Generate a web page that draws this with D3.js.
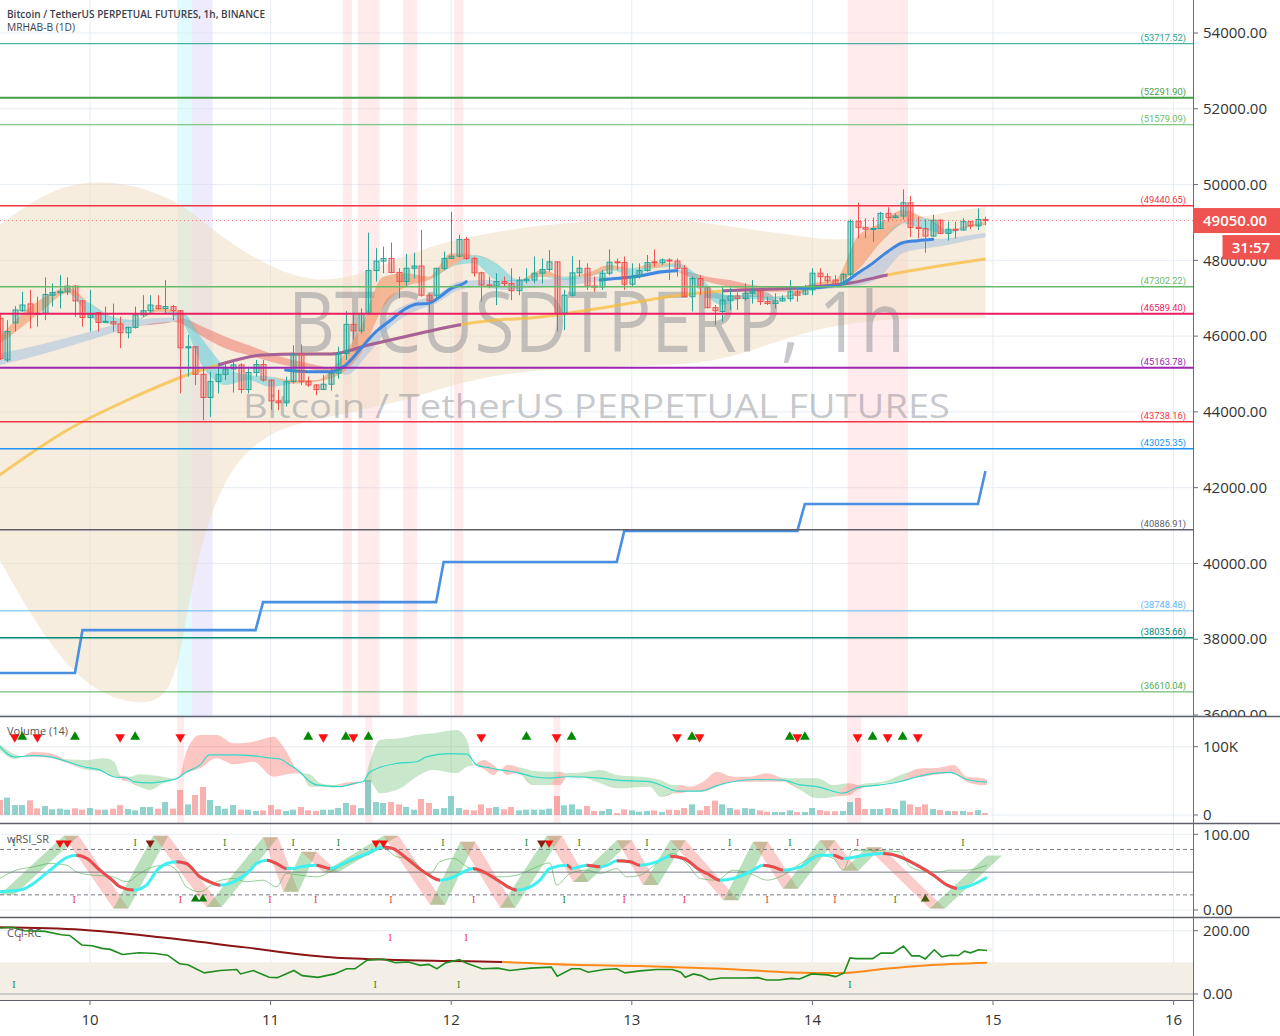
<!DOCTYPE html>
<html><head><meta charset="utf-8">
<script src="https://cdn.jsdelivr.net/npm/d3@7/dist/d3.min.js"></script>
<style>html,body{margin:0;padding:0;background:#fff;}svg{display:block;}</style>
</head><body><svg id="chart" width="1280" height="1036"></svg>
<script>
// ---------------- DATA ----------------
const FIRST_HOUR = -12; // hours relative to day 10 00:00
const dayTicks = [10,11,12,13,14,15,16];
const priceTicks = [36000,38000,40000,42000,44000,46000,48000,50000,52000,54000];
const candleOpen = [46470,45370,46350,46670,46850,46600,46600,47080,47150,47170,47320,46930,
46490,46620,46370,46380,46320,46090,46230,46560,46670,46800,46730,46780,
46670,45690,45720,44990,44380,44800,44990,45130,45240,44590,45040,45250,
44840,44290,44240,44800,45520,44800,44710,44590,44730,45020,45540,46310,
46140,46600,47730,47980,48050,47680,47440,47790,47850,47080,47080,47790,
48050,48110,48550,48050,47670,47350,47320,47440,47390,47200,47460,47480,
47660,47760,47960,46600,47080,47670,47790,47320,47300,47660,47960,47940,
47370,47570,47730,47960,47940,48010,47980,47790,47040,47520,47300,46750,
46650,46950,47060,46990,47130,47190,46910,46860,46930,46990,47170,47110,
47220,47660,47570,47480,47370,47630,49020,48870,48820,48840,49240,49130,
49170,49520,48870,48840,48640,49060,48710,48820,48800,49020,48910,49080];
const candleHigh = [46600,46420,46790,47170,47220,47040,47550,47390,47610,47550,47350,46950,
47220,46640,46780,46860,46510,46250,46780,47080,47080,47080,47480,46820,
46690,46030,45720,45190,45060,45190,45320,45370,45280,45190,45370,45370,
44860,44580,44930,45760,45780,44930,44730,44970,45190,45720,46660,46600,
46730,48730,48320,48360,48470,47790,48170,48200,48800,47130,47790,48230,
49280,48670,48620,48100,47700,47570,47660,47570,47790,47570,47790,48100,
48050,48270,47960,47220,48110,48010,47920,47570,47740,48290,48050,48100,
47920,47920,48140,48290,48050,48050,48050,47880,47570,47610,47300,46820,
47300,47290,47150,47390,47480,47190,47040,47130,47080,47480,47300,47350,
47790,47790,47660,47610,47660,49080,49520,49110,49130,49280,49400,49240,
49870,49700,49150,49080,49200,49080,49020,49020,49110,49020,49370,49150];
const candleLow = [45370,45320,46120,46640,46200,46250,46420,46780,46730,47080,46510,46250,
46120,46120,46350,46120,45680,45940,46200,46510,46600,46690,46600,46420,
44490,44930,44710,43780,43870,44490,44840,44510,44490,44490,44930,44800,
44050,44050,44140,44750,44710,44660,44440,44580,44560,44880,45370,45910,
46070,46560,47440,47660,47660,47000,47300,47520,47040,46600,46990,47740,
48040,48080,48010,47570,46910,47260,46820,47300,46950,47080,47390,47390,
47390,47700,46120,46160,47040,47570,47220,47170,47220,47610,47740,47220,
47300,47520,47700,47830,47880,47480,47570,47040,46650,47080,46730,46290,
46380,46690,46690,46930,46860,46820,46820,46730,46910,46910,46910,47080,
47080,47350,47390,47350,47350,47570,48580,48580,48490,48820,49020,49110,
49080,48620,48580,48200,48620,48690,48520,48580,48780,48820,48800,48930];
const candleClose = [45410,46120,46690,46820,46600,46570,47100,47150,47170,47320,46930,46490,
46580,46360,46390,46320,46090,46230,46560,46670,46820,46730,46780,46670,
45690,45720,44990,44380,44800,44990,45130,45240,44590,45040,45250,44840,
44290,44240,44800,45520,44800,44710,44590,44730,45020,45540,46310,46140,
46600,47730,47980,48050,47680,47440,47790,47850,47080,46930,47790,48050,
48110,48550,48050,47670,47350,47320,47440,47390,47200,47480,47500,47660,
47760,47960,46600,47080,47670,47790,47320,47300,47660,47950,47940,47370,
47570,47730,47940,47940,48010,47980,47790,47040,47520,47300,46750,46670,
46950,47060,46990,47130,47170,46910,46860,46930,46990,47170,47080,47220,
47660,47570,47460,47370,47630,49020,48870,48820,48840,49240,49130,49170,
49520,48870,48840,48640,49060,48710,48820,48800,49020,48910,49080,49050];
const volumeK = [22,25.4,14.6,14.6,21.5,9.8,13.2,8.3,9.3,7.8,9.8,7.8,
10.2,7.8,7.8,9.3,14.6,8.8,6.8,11.7,11.7,9.3,19,9.3,
36.6,15.6,29.3,41,22,13.2,9.3,14.6,7.8,7.8,5.9,6.8,
14.6,8.3,5.9,7.8,11.7,6.8,5.9,7.8,7.8,10.2,17.6,14.6,
10.2,51.2,19,17.6,19,15.6,11.7,7.8,23.4,17.6,8.8,10.2,
27.8,10.2,7.8,6.8,15.6,10.2,11.7,8.3,11.7,6.8,7.8,7.8,
7.8,9.3,27.8,14.2,15.6,8.3,13.2,5.9,5.9,8.8,2.9,8.3,
6.8,4.9,5.9,6.8,4.4,7.8,7.3,10.2,15.6,6.8,13.2,21,
15.6,10.2,7.8,10.2,9.3,6.8,4.9,4.4,4.4,6.8,4.4,4.4,
10.2,7.3,5.4,5.4,5.9,19,24.9,8.8,8.8,8.8,10.2,8.8,
21,15.6,11.7,15.6,8.8,7.3,5.9,5.9,5.9,4.4,7.3,2.9];

const levelValues = [53717.52,52291.90,51579.09,49440.65,47302.22,46589.40,45163.78,43738.16,43025.35,40886.91,38748.48,38035.66,36610.04];

const cloudHours = [-12,-6,0,6,10,12,14,18,24,30,36,42,48,54,60,68,78,84,90,96,102,108,119];
const cloudUpper = [48933,49804,50120,49988,49672,49461,49197,48537,47798,47402,47613,48141,48537,48748,48933,49065,49091,48933,48748,48590,48484,49117,49408];
const cloudLower = [40091,37980,36660,36264,36396,37452,40091,42467,43522,43786,44050,44314,44710,44974,45106,45185,45238,45370,45766,46162,46373,46478,46478];

const fastHours = [-12,-9,-6,-3,0,3,6,9,12,15,18,21,24,27,30,33,36,39,42,45,48,51,54,57,60,63,66,69,72,75,78,81,84,87,90,93,96,99,102,105,108,111,114,117,119];
const fastA = [45984,46600,47040,47286,46512,46318,46424,46732,46424,45192,44708,44840,44664,44840,44840,45324,46248,47568,47656,47568,48184,47920,47480,47436,47744,47480,47656,47876,47612,47920,47832,47216,46820,46996,46952,47084,47392,47480,48624,48976,49328,48800,48712,48932,49020];
const fastB = [45808,46248,46732,47128,46864,46512,46424,46644,46644,45896,45192,44972,44928,44752,44796,44972,45544,46776,47304,47480,47832,48140,47920,47480,47568,47568,47568,47744,47788,47788,47920,47568,47084,47084,47040,47040,47260,47392,47744,48448,48976,49108,48800,48888,48932];

const slowHours = [-12,-6,0,6,11,12,15,18,21,24,27,30,32,33,34,37,40,43,46,49,52,55,58,61,64,67,70,73,76,78,79,82,85,88,91,94,96,99,102,105,108,111,114,117,119];
const slowA = [45544,45808,46116,46424,46494,46336,45984,45676,45500,45324,45192,45104,45060,45100,45236,45896,46600,46908,47084,47436,47480,47480,47480,47498,47524,47568,47568,47656,47744,47762,47612,47436,47304,47198,47172,47198,47234,47374,47612,48008,48448,48536,48580,48668,48730];
const slowB = [45236,45544,45896,46248,46380,46468,46248,45984,45764,45544,45368,45236,45148,45100,44972,45544,46248,46644,46864,47216,47304,47216,47260,47304,47348,47436,47480,47550,47638,47700,47700,47568,47480,47348,47286,47260,47234,47260,47322,47568,48184,48316,48404,48536,48606];

const smaHours = [-12,-3,5,14,17,23,28,32,37,44,49,54,58.5,68,78.5,84,94,101,106,119];
const smaVals = [42335,43522,44314,45053,45238,45502,45528,45528,45766,46082,46293,46425,46478,46742,47085,47190,47270,47400,47613,48035];
const smaPurpleRanges = [[17,49.3],[84,106]];

const blueSeg1Hours = [26,29,32,34,36,38,40,42,43.5,45,46.5,48,49.5,50];
const blueSeg1Vals = [45104,45060,45060,45236,45676,46116,46424,46732,46846,46864,47040,47260,47374,47436];
const blueSeg2Hours = [67.8,70,73,76,78];
const blueSeg2Vals = [47480,47524,47586,47700,47726];
const blueSeg3Hours = [94,97,100,102,104,106,108,110,112];
const blueSeg3Vals = [47260,47286,47392,47656,47920,48228,48466,48518,48554];

const stepStarts = [-12,-1,23,47,71,95,119];
const stepLevels = [37110,38240,38980,40040,40860,41570,42440];

const pinkBandsMain = [[33.6,34.8],[35.6,38.5],[41.6,43.5],[48.4,49.6],[100.7,108.7]];
const cyanBand = [11.6,13.6];
const lavenderBand = [13.6,16.3];
const pinkBandsVol = [[11.6,12.5],[36.6,37.5],[61.6,62.5],[100.6,102.5]];

const volLineHours = [-12,-10,-7.5,-5.3,-3,-1,1.3,3.1,4.9,5.8,8,10.2,11.5,12.8,14.6,15.9,19.1,21.3,23.5,25.2,26.6,27.9,29.2,30.1,33.2,35,36.3,37.2,40.8,43.4,44.7,47.8,50.1,51.4,53.1,54.5,56.7,58.9,61.1,63.4,67.8,70,74.4,75.8,78,81.1,83.3,85.5,88.6,92.1,94.4,96.6,100.1,101.9,105,107.7,109.9,112.1,114.3,116.5,119.2];
const volLineVals = [100,85,87,85,78,71,66,56,54,49,47,50,53,63,73,88,88,87,84,82,73,63,49,44,41.5,46,49,63,75.6,78,85,90,89,73,69,66,62.5,56,54,56,54,51,49,44,35,35,43,49,52,51,44,41.5,32,40,44,49,56,61,62.5,52,48];

const volCloudHours = [-12,-10,-9,-7.5,-5.3,-3.5,-0.4,1.9,3.2,4.1,4.4,5.3,6.6,8,9.7,11.1,12,12.8,14.6,16.8,19.1,21.7,24.4,25.7,27.5,28.3,29.2,30.6,32.3,33.6,35,36.3,37.2,38.5,41.2,43.4,45.6,48.7,50.1,51,52.3,53.6,54.5,55.4,56.7,57.6,58.9,61.1,62.5,63.4,65.6,67.8,70,74.4,75.8,77.5,78.4,79.7,81.5,83.3,85.5,87.7,89.9,92.5,94.4,96.6,98.8,101,101.9,103.2,105.4,107.7,109,110.8,112.1,114.8,116.5,118.7,119.2];
const volCloudA = [103.5,88.8,85.4,85.4,83.9,78.1,80.5,83,78.1,53.7,49.8,56.1,59.5,58.6,56.1,53.7,56.1,61,68.3,83,74.2,78.1,56.1,58.6,61,61,59.5,46.4,43.9,42.5,43.9,48.8,78.1,109.8,112.2,117.1,119.6,124.4,109.8,73.2,67.3,58.6,65.9,58.6,61,68.3,64.4,63.4,43.9,61,62.5,65.9,58.6,54.7,51.2,43.9,31.7,35.1,34.2,41.5,48.8,48.8,48.8,53.7,53.7,53.7,43.9,29.3,36.6,46.4,48.8,58.6,53.7,56.1,58.6,61,48.8,43.9,43.9];
const volCloudB = [95.2,82,85.4,92.7,90.3,82,65.9,63.4,56.1,57.6,57.6,48.8,41.5,36.6,46.4,51.2,58.6,92.7,117.1,117.1,104.9,107.4,114.7,100,65.9,58.6,41.5,41.5,40,46.4,48.8,48.8,48.8,31.7,39,56.1,65.9,61,70.8,73.2,80.5,73.2,65.9,73.2,70.8,56.1,43.9,43.9,63.4,56.1,54.7,46.4,39,41.5,26.8,31.7,43.9,41.5,48.8,63.4,56.1,56.1,61,48.8,36.6,24.4,26.8,46.4,43.9,41.5,46.4,48.8,63.4,68.3,68.3,73.2,56.1,53.7,51.2];

const volSigDown = [-10,-7,4,12,31,35,52,62,78,81,94,102,106,110];
const volSigUp = [-9,-2,6,29,34,37,58,64,80,93,95,104,108];

const rsiLineHours = [-12,-9.3,-7.5,-5.3,-3.1,-1.8,-0.4,1.3,2.7,4,5.8,7.5,8.9,10.2,11.5,12.8,14.6,15.9,17.3,19.1,21.3,22.1,23.5,24.8,26.1,27,27.9,30.1,31.9,34.5,36.8,39,40.3,42.1,44.7,46.5,47.8,49.2,50.9,52.3,54.5,56.7,58,59.8,61.1,63.4,64,66,67.8,68.7,70,71.8,73.1,75.3,77.1,78.9,81.1,82,83.7,85.5,87.7,89.5,90.8,92.1,94.4,97,98.8,100.1,103,105.4,107.7,109.9,112.1,113.9,115.2,116.5,119.2];
const rsiLineVals = [24.1,26.3,35.1,52.6,69.3,72.4,68,52.6,41.6,30.7,26.3,32.9,52.6,61.4,63.6,61.4,43.8,37.3,32.9,37.3,52.6,61.4,65.8,61.4,54.8,54.8,57,59.2,54.8,65.8,74.5,83.3,81.1,68,48.2,39.4,41.6,48.2,54.8,50.4,37.3,26.3,28.5,39.4,54.8,59.2,54.8,59.2,57,59.2,64.9,63.6,59.2,63.6,71,68,52.6,48.2,39.4,41.6,50.4,59.2,57,52.6,57,72.4,72.4,68,72.4,74.5,70,59.2,46,32.9,28.5,30.7,43];
const rsiRibHours = [-12,-3.5,3.1,8.4,15.5,23,25.7,28.1,31,39,45.2,49.2,54.5,60.7,64.2,70,73.5,77.1,84.2,88.1,92.1,97,100.1,103.2,111.6,119.2];
const rsiRibVals = [20,98,2,98,4,96,24,77,50,98,7,90,3,98,37,92,33,92,13,90,28,92,52,83,2,72];
const RSI_RIBBON_LAG = 2;
const rsiThinHours = [-12,-9.8,-7.5,-5.3,-3.1,-1.8,0.4,2.7,4.9,6.6,8.4,10.2,11.5,12.8,14.6,16.8,19.1,20.8,23,24.8,26.1,27.9,30.1,32.3,34.5,36.8,39,40.8,42.5,44.3,45.2,46.5,48.3,50.1,52.3,54.5,56.7,58.9,61.1,62,63.8,66,67.8,70,71.3,73.1,75.3,77.5,79.3,81.1,83.3,85.5,87.7,90,92.1,94.4,97,98.8,100.1,101.4,103.2,107.7,109,111.6,112.9,114.3,116.5,119.2];
const rsiThinVals = [41.6,52.6,57,61.4,59.2,50.4,46,44.7,37.3,48.2,57,59.2,52.6,30.7,24.1,37.3,41.6,37.3,39.4,30.7,48.2,46,43.8,52.6,63.6,72.4,81.1,70.2,68,52.6,48.2,63.6,68,57,48.2,43.8,46,54.8,62.3,32.9,48.2,52.6,48.2,54.8,43.8,46,61.4,74.5,61.4,41.6,39.4,52.6,48.2,39.4,46,61.4,72.4,68,52.6,78.9,78.9,76.7,57,50.4,50.4,52.6,52.6,59.2];
const rsiTopGreenI = [-10.1,6,17.9,27,33,46.9,58,65,74,85,93,116];
const rsiTopRedI = [102];
const rsiBottomRedI = [-2.1,12,23.9,30,40,51,71,79,90,99];
const rsiBottomGreenI = [63,107];
const rsiDownTri = [-4,-3,38,39,61];
const rsiDownTriDark = [8,60];
const rsiUpTri = [14,15];
const rsiUpTriDark = [111];

const cciHours = [-12,-10.3,-8.7,-6,-3.8,-2.7,-1.1,0.25,1.6,2.7,4.3,6.5,8.7,10.3,11.9,13,15.2,17.3,19.5,20,21.7,23.8,24.9,27.1,28.2,30.3,32.5,34.1,35.2,36.8,39,40.6,42.3,43.9,45,46.1,47.2,49.1,49.9,52.1,54.2,55.8,58.6,61.3,62.1,64,65.1,66.2,68.3,70,71.1,73.1,75.3,77.4,78.5,79.1,80.2,81.2,82.3,83.9,87.2,88.8,89.9,91.5,93.2,94.3,95.9,98,99.1,100.2,101,101.8,104,105.1,106.7,108.1,109.2,110.2,111,112.2,113.2,114.3,115.4,116.2,117,118.1,119.2];
const cciVals = [208.6,210.8,200,197.9,187.1,185,154.9,152.7,144.1,140.9,124.7,130.1,128,122.6,95.7,92.5,66.7,74.2,77.4,63.5,74.2,52.7,51.7,74.2,58.1,52.7,63.5,79.6,79.6,106.5,109.7,99,101.1,90.4,93.6,79.6,97.9,108.6,99,79.6,81.7,74.2,81.7,85,55.9,79.6,79.6,68.9,77.4,79.6,66.7,73.1,77.4,77.4,68.9,52.7,63.5,58.1,45.2,50.6,50.6,51.7,44.1,44.1,49.5,47.4,63.5,60.3,54.9,66.7,114,111.9,111.9,129,129,151.6,120.5,120.5,110.8,139.8,117.2,122.6,121.5,135.5,130.1,139.8,137.6];
const cciSigHours = [-12,-1.1,9.7,20.6,31.4,39.6,47.7,54.8,64,73.1,83.9,95.9,100.2,105.6,111,119.2];
const cciSigVals = [210.8,203.2,178.5,147.3,117.2,108.6,104.3,101.1,92.5,88.2,79.6,66.7,66.7,79.6,90.4,99];
const CCI_SIG_SWITCH = 54.8;
const cciTopRedI = [-9.3,39.9,50];
const cciBottomGreenI = [-10.1,37.9,49,101];

const lastPrice = 49050.00;
const countdown = "31:57";

// ---------------- STYLE ----------------
const levelColors = ['#1fa38e','#43a047','#66bb6a','#f23645','#66bb6a','#e91e63','#9c27b0','#f23645','#2196f3','#5d606b','#64b5f6','#00897b','#4caf50'];
const levelWidths = [1,2,1,1.5,1.5,2,2,1.5,1.5,1.5,1,1.5,1];
const UP='#26a69a', DN='#ef5350';
const FONT = "'Open Sans','Noto Sans',sans-serif";
const R = 1193;

// ---------------- SCALES ----------------
const x = d3.scaleLinear().domain([0,120]).range([90,993]);
const yP = d3.scaleLinear().domain([36000,54000]).range([715,33]);
const yV = d3.scaleLinear().domain([0,100]).range([815,746.7]);
const yR = d3.scaleLinear().domain([0,100]).range([910,834.3]);
const yC = d3.scaleLinear().domain([0,200]).range([994,930.7]);
const PANES = {main:[0,716], vol:[717,823], rsi:[824,917], cci:[918,1000]};

const svg = d3.select('#chart');
const defs = svg.append('defs');
function addClip(id,x0,y0,w,h){defs.append('clipPath').attr('id',id).append('rect').attr('x',x0).attr('y',y0).attr('width',w).attr('height',h);}
Object.entries(PANES).forEach(([k,[t,b]])=>addClip('clip-'+k,0,t,R,b-t));
addClip('clip-axmain',R,0,87,716);
svg.append('rect').attr('width',1280).attr('height',1036).attr('fill','#fff');
const G = {};
Object.keys(PANES).forEach(k=>G[k]=svg.append('g').attr('clip-path',`url(#clip-${k})`));

const hours = candleOpen.map((_,k)=>FIRST_HOUR+k);
const dayHours = dayTicks.map(d=>(d-10)*24);
const pts = (h,v)=>h.map((t,k)=>[t,v[k]]);

// grid
Object.entries(PANES).forEach(([k,[t,b]])=>{
  G[k].selectAll('line.vg').data(dayHours).join('line').attr('class','vg')
   .attr('x1',d=>x(d)).attr('x2',d=>x(d)).attr('y1',t).attr('y2',b).attr('stroke','#e6edf3');
});
G.main.selectAll('line.hg').data(priceTicks).join('line').attr('class','hg')
  .attr('x1',0).attr('x2',R).attr('y1',d=>yP(d)).attr('y2',d=>yP(d)).attr('stroke','#e6edf3');
[[G.vol,yV,[0,100]],[G.rsi,yR,[0,100]],[G.cci,yC,[200]]].forEach(([g,s,vals])=>vals.forEach(v=>{
  g.append('line').attr('x1',0).attr('x2',R).attr('y1',s(v)).attr('y2',s(v)).attr('stroke','#e6edf3');
}));

// ---------- MAIN PANE ----------
const M = G.main;
function band(g,r,fill,t,b){g.append('rect').attr('x',x(r[0])).attr('width',x(r[1])-x(r[0])).attr('y',t).attr('height',b-t).attr('fill',fill);}
pinkBandsMain.forEach(r=>band(M,r,'rgba(255,196,200,0.35)',0,716));
band(M,cyanBand,'rgba(200,245,250,0.55)',0,716);
band(M,lavenderBand,'rgba(222,215,250,0.5)',0,716);

M.append('path').datum(d3.zip(cloudHours,cloudUpper,cloudLower))
 .attr('d',d3.area().x(d=>x(d[0])).y0(d=>yP(d[2])).y1(d=>yP(d[1])).curve(d3.curveBasis))
 .attr('fill','rgba(238,220,190,0.5)');

M.append('text').attr('x',288).attr('y',352).text('BTCUSDTPERP, 1h')
 .attr('font-family',FONT).attr('font-size',84).attr('fill','rgba(120,123,134,0.42)')
 .attr('textLength',617).attr('lengthAdjust','spacingAndGlyphs');
M.append('text').attr('x',243).attr('y',418).text('Bitcoin / TetherUS PERPETUAL FUTURES')
 .attr('font-family',FONT).attr('font-size',33).attr('fill','rgba(120,123,134,0.42)')
 .attr('textLength',707).attr('lengthAdjust','spacingAndGlyphs');

function ribbon(g,data,ys,colUp,colDn){
  const up=d3.area().x(d=>x(d[0])).y0(d=>ys(d[2])).y1(d=>ys(Math.max(d[1],d[2]))).curve(d3.curveMonotoneX);
  const dn=d3.area().x(d=>x(d[0])).y0(d=>ys(d[2])).y1(d=>ys(Math.min(d[1],d[2]))).curve(d3.curveMonotoneX);
  g.append('path').attr('d',up(data)).attr('fill',colUp);
  g.append('path').attr('d',dn(data)).attr('fill',colDn);
}
ribbon(M,d3.zip(slowHours,slowA,slowB),yP,'rgba(150,185,225,0.45)','rgba(240,110,95,0.5)');
ribbon(M,d3.zip(fastHours,fastA,fastB),yP,'rgba(244,140,90,0.55)','rgba(80,205,220,0.5)');

const lineP = d3.line().x(d=>x(d[0])).y(d=>yP(d[1])).curve(d3.curveMonotoneX);
const smaD = lineP(pts(smaHours,smaVals));
M.append('path').attr('d',smaD).attr('fill','none').attr('stroke','rgba(247,190,60,0.75)').attr('stroke-width',3);
const cp = defs.append('clipPath').attr('id','clip-purple');
smaPurpleRanges.forEach(r=>cp.append('rect').attr('x',x(r[0])).attr('width',x(r[1])-x(r[0])).attr('y',0).attr('height',716));
M.append('path').attr('d',smaD).attr('fill','none').attr('stroke','rgb(150,80,165)').attr('stroke-width',3).attr('clip-path','url(#clip-purple)').attr('opacity',0.85);

[[blueSeg1Hours,blueSeg1Vals],[blueSeg2Hours,blueSeg2Vals],[blueSeg3Hours,blueSeg3Vals]].forEach(([h,v])=>{
  M.append('path').attr('d',lineP(pts(h,v))).attr('fill','none').attr('stroke','#3f86e0').attr('stroke-width',3).attr('stroke-linecap','round');
});

const stepPts=[];
stepStarts.forEach((s,k)=>{stepPts.push([s,stepLevels[k]]); if(k<stepStarts.length-1) stepPts.push([stepStarts[k+1]-1,stepLevels[k]]);});
M.append('path').attr('d',d3.line().x(d=>x(d[0])).y(d=>yP(d[1]))(stepPts)).attr('fill','none').attr('stroke','#4a90e2').attr('stroke-width',2.6);

const idx = d3.range(hours.length);
const isUp = k=>candleClose[k]>=candleOpen[k];
M.selectAll('line.wick').data(idx).join('line').attr('class','wick')
 .attr('x1',k=>Math.round(x(hours[k]))+0.5).attr('x2',k=>Math.round(x(hours[k]))+0.5)
 .attr('y1',k=>yP(candleHigh[k])).attr('y2',k=>yP(candleLow[k]))
 .attr('stroke',k=>isUp(k)?UP:DN).attr('stroke-width',1);
M.selectAll('rect.body').data(idx).join('rect').attr('class','body')
 .attr('x',k=>Math.round(x(hours[k]))-2).attr('width',5)
 .attr('y',k=>yP(Math.max(candleOpen[k],candleClose[k])))
 .attr('height',k=>Math.max(1,Math.abs(yP(candleOpen[k])-yP(candleClose[k]))))
 .attr('fill',k=>isUp(k)?'rgba(38,166,154,0.3)':'rgba(239,83,80,0.3)')
 .attr('stroke',k=>isUp(k)?UP:DN).attr('stroke-width',1);

levelValues.forEach((v,k)=>{
  M.append('line').attr('x1',0).attr('x2',R).attr('y1',yP(v)).attr('y2',yP(v)).attr('stroke',levelColors[k]).attr('stroke-width',levelWidths[k]);
  M.append('text').attr('x',1186).attr('y',yP(v)-3).attr('text-anchor','end').text('('+d3.format('.2f')(v)+')')
   .attr('font-family',"Roboto,sans-serif").attr('font-size',9.3).attr('fill',levelColors[k]);
});
M.append('line').attr('x1',0).attr('x2',R).attr('y1',yP(lastPrice)).attr('y2',yP(lastPrice)).attr('stroke','#ef5350').attr('stroke-dasharray','1,3').attr('opacity',0.7);

// ---------- VOLUME PANE ----------
const V = G.vol;
pinkBandsVol.forEach(r=>band(V,r,'rgba(255,190,195,0.3)',717,823));
V.selectAll('rect.vb').data(idx).join('rect').attr('class','vb')
 .attr('x',k=>Math.round(x(hours[k]))-3).attr('width',6)
 .attr('y',k=>yV(volumeK[k])).attr('height',k=>yV(0)-yV(volumeK[k]))
 .attr('fill',k=>isUp(k)?'rgba(38,166,154,0.5)':'rgba(239,83,80,0.45)');
ribbon(V,d3.zip(volCloudHours,volCloudA,volCloudB),yV,'rgba(76,175,80,0.3)','rgba(244,67,54,0.3)');
V.append('path').attr('d',d3.line().x(d=>x(d[0])).y(d=>yV(d[1])).curve(d3.curveMonotoneX)(pts(volLineHours,volLineVals)))
 .attr('fill','none').attr('stroke','#2fd8c8').attr('stroke-width',1.2);
const tri = d3.symbol(d3.symbolTriangle,42);
volSigDown.forEach(h=>V.append('path').attr('d',tri()).attr('transform',`translate(${x(h)},737) rotate(180)`).attr('fill','#ff1010'));
volSigUp.forEach(h=>V.append('path').attr('d',tri()).attr('transform',`translate(${x(h)},737)`).attr('fill','#008a00'));
svg.append('text').attr('x',7).attr('y',735).text('Volume (14)').attr('font-family',FONT).attr('font-size',11).attr('fill','#555');

// ---------- RSI PANE ----------
const Q = G.rsi;
const rib = pts(rsiRibHours,rsiRibVals);
for(let k=0;k<rib.length-1;k++){
  const [h0,v0]=rib[k],[h1,v1]=rib[k+1];
  const poly=[[x(h0),yR(v0)],[x(h1),yR(v1)],[x(h1+RSI_RIBBON_LAG),yR(v1)],[x(h0+RSI_RIBBON_LAG),yR(v0)]];
  Q.append('path').attr('d','M'+poly.join('L')+'Z').attr('fill',v1>v0?'rgba(76,175,80,0.38)':'rgba(244,100,90,0.32)');
}
Q.append('path').attr('d',d3.line().x(d=>x(d[0])).y(d=>yR(d[1])).curve(d3.curveMonotoneX)(pts(rsiThinHours,rsiThinVals)))
 .attr('fill','none').attr('stroke','rgba(76,175,80,0.6)').attr('stroke-width',1);
[80,20].forEach(v=>Q.append('line').attr('x1',0).attr('x2',R).attr('y1',yR(v)).attr('y2',yR(v)).attr('stroke','#787b86').attr('stroke-dasharray','4,3'));
Q.append('line').attr('x1',0).attr('x2',R).attr('y1',yR(50)).attr('y2',yR(50)).attr('stroke','#787b86');
const rsiPts = pts(rsiLineHours,rsiLineVals);
const rsiD = d3.line().x(d=>x(d[0])).y(d=>yR(d[1])).curve(d3.curveMonotoneX)(rsiPts);
Q.append('path').attr('d',rsiD).attr('fill','none').attr('stroke','#3ff0f0').attr('stroke-width',3);
const fall=[]; for(let k=0;k<rsiPts.length-1;k++){ if(rsiPts[k+1][1]<rsiPts[k][1]){ const a=rsiPts[k][0],b=rsiPts[k+1][0]; if(fall.length&&fall[fall.length-1][1]===a) fall[fall.length-1][1]=b; else fall.push([a,b]); } }
const cf = defs.append('clipPath').attr('id','clip-fall');
fall.forEach(r=>cf.append('rect').attr('x',x(r[0])).attr('width',x(r[1])-x(r[0])).attr('y',824).attr('height',93));
Q.append('path').attr('d',rsiD).attr('fill','none').attr('stroke','#f44747').attr('stroke-width',3).attr('clip-path','url(#clip-fall)');
function marks(g,list,yv,col){ list.forEach(h=>g.append('text').attr('x',x(h)).attr('y',yv).attr('text-anchor','middle').text('I').attr('font-family',"'Liberation Serif',serif").attr('font-size',10).attr('fill',col)); }
marks(Q,rsiTopGreenI,846,'#1a8a1a'); marks(Q,rsiTopRedI,846,'#f23645');
marks(Q,rsiBottomRedI,903,'#f23645'); marks(Q,rsiBottomGreenI,903,'#1a8a1a');
const tri2 = d3.symbol(d3.symbolTriangle,34);
rsiDownTri.forEach(h=>Q.append('path').attr('d',tri2()).attr('transform',`translate(${x(h)},843) rotate(180)`).attr('fill','#f01010'));
rsiDownTriDark.forEach(h=>Q.append('path').attr('d',tri2()).attr('transform',`translate(${x(h)},843) rotate(180)`).attr('fill','#8b1a10'));
rsiUpTri.forEach(h=>Q.append('path').attr('d',tri2()).attr('transform',`translate(${x(h)},899)`).attr('fill','#0a7a0a'));
rsiUpTriDark.forEach(h=>Q.append('path').attr('d',tri2()).attr('transform',`translate(${x(h)},899)`).attr('fill','#4a5a10'));
svg.append('text').attr('x',7).attr('y',843).text('wRSI_SR').attr('font-family',FONT).attr('font-size',11).attr('fill','#555');

// ---------- CCI PANE ----------
const C = G.cci;
C.append('rect').attr('x',0).attr('width',R).attr('y',yC(100)).attr('height',1000-yC(100)).attr('fill','#f3eee6');
C.append('line').attr('x1',0).attr('x2',R).attr('y1',yC(0)).attr('y2',yC(0)).attr('stroke','#a0a3ab');
const lineC = d3.line().x(d=>x(d[0])).y(d=>yC(d[1]));
const sigD = d3.line().x(d=>x(d[0])).y(d=>yC(d[1])).curve(d3.curveMonotoneX)(pts(cciSigHours,cciSigVals));
addClip('clip-sigA',0,918,x(CCI_SIG_SWITCH),82);
addClip('clip-sigB',x(CCI_SIG_SWITCH),918,R-x(CCI_SIG_SWITCH),82);
C.append('path').attr('d',sigD).attr('fill','none').attr('stroke','#8b1414').attr('stroke-width',2).attr('clip-path','url(#clip-sigA)');
C.append('path').attr('d',sigD).attr('fill','none').attr('stroke','#ff8a1a').attr('stroke-width',2).attr('clip-path','url(#clip-sigB)');
C.append('path').attr('d',lineC(pts(cciHours,cciVals))).attr('fill','none').attr('stroke','#1e8c1e').attr('stroke-width',1.6);
marks(C,cciTopRedI,941,'#f23645'); marks(C,cciBottomGreenI,988,'#1a8a1a');
svg.append('text').attr('x',7).attr('y',937).text('CCI-RC').attr('font-family',FONT).attr('font-size',11).attr('fill','#555');

// ---------- FRAMES & AXES ----------
[716.5,823.5,917.5].forEach(y=>svg.append('line').attr('x1',0).attr('x2',1280).attr('y1',y).attr('y2',y).attr('stroke','#5d606b').attr('stroke-width',1.5));
svg.append('line').attr('x1',0).attr('x2',R).attr('y1',1000.5).attr('y2',1000.5).attr('stroke','#5d606b').attr('stroke-width',1);
svg.append('line').attr('x1',R+0.5).attr('x2',R+0.5).attr('y1',0).attr('y2',1036).attr('stroke','#6a6d78').attr('stroke-width',1);

const axMain = svg.append('g').attr('clip-path','url(#clip-axmain)');
function axisLabels(g,vals,ys,fmt){
  vals.forEach(v=>{
    g.append('line').attr('x1',R).attr('x2',R+5).attr('y1',ys(v)).attr('y2',ys(v)).attr('stroke','#6a6d78');
    g.append('text').attr('x',R+10).attr('y',ys(v)).attr('dy','0.35em').text(fmt(v)).attr('font-family',FONT).attr('font-size',15).attr('fill','#333');
  });
}
axisLabels(axMain,priceTicks,yP,d3.format('.2f'));
axisLabels(svg,[0,100],yV,v=>v===0?'0':v+'K');
axisLabels(svg,[0,100],yR,d3.format('.2f'));
axisLabels(svg,[0,200],yC,d3.format('.2f'));

dayTicks.forEach(d=>{
  const xx = x((d-10)*24);
  svg.append('line').attr('x1',xx).attr('x2',xx).attr('y1',1000).attr('y2',1005).attr('stroke','#6a6d78');
  svg.append('text').attr('x',xx).attr('y',1025).attr('text-anchor','middle').text(d).attr('font-family',FONT).attr('font-size',15).attr('fill','#333');
});

svg.append('rect').attr('x',R).attr('y',yP(lastPrice)-12.5).attr('width',1280-R).attr('height',25).attr('fill','#ef5350');
svg.append('text').attr('x',R+10).attr('y',yP(lastPrice)).attr('dy','0.36em').text(d3.format('.2f')(lastPrice)).attr('font-family',FONT).attr('font-size',15).attr('font-weight',600).attr('fill','#fff');
svg.append('rect').attr('x',1222.5).attr('y',yP(lastPrice)+14.5).attr('width',57.5).attr('height',24.5).attr('fill','#ef5350');
svg.append('text').attr('x',1251).attr('y',yP(lastPrice)+27).attr('dy','0.36em').attr('text-anchor','middle').text(countdown).attr('font-family',FONT).attr('font-size',15).attr('font-weight',600).attr('fill','#fff');

svg.append('text').attr('x',7).attr('y',17.5).text('Bitcoin / TetherUS PERPETUAL FUTURES, 1h, BINANCE').attr('font-family',FONT).attr('font-size',11).attr('font-weight',600).attr('fill','#3b3f4a').attr('textLength',258).attr('lengthAdjust','spacingAndGlyphs');
svg.append('text').attr('x',7).attr('y',31).text('MRHAB-B (1D)').attr('font-family',FONT).attr('font-size',11).attr('fill','#3b3f4a').attr('textLength',68).attr('lengthAdjust','spacingAndGlyphs');
</script></body></html>
